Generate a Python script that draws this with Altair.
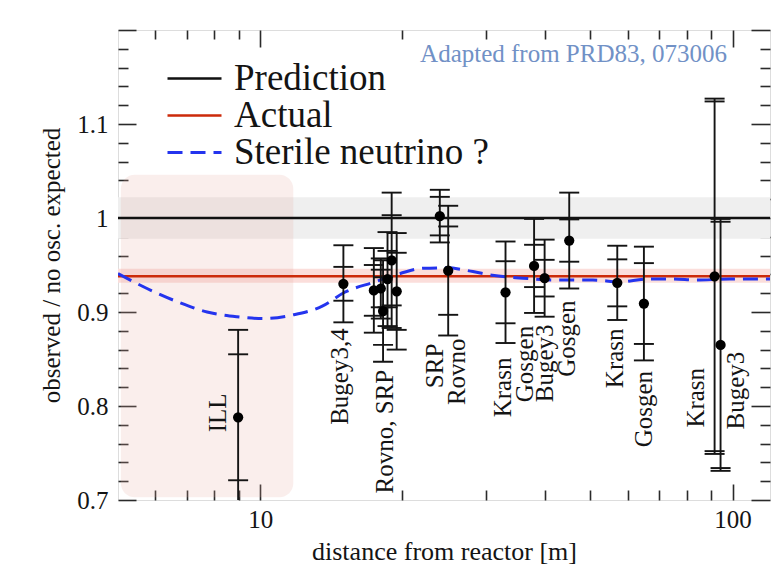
import altair as alt
import pandas as pd

# ---------------- data ----------------
dist    = [8.98, 15.0, 17.4, 18.0, 18.2, 18.6, 18.98, 19.45, 24.0, 25.0, 33.06, 38.0, 40.0, 45.1, 57.0, 64.9, 91.6, 94.3]
ratio   = [0.788, 0.930, 0.923, 0.925, 0.901, 0.935, 0.955, 0.922, 1.002, 0.944, 0.921, 0.949, 0.936, 0.976, 0.931, 0.909, 0.938, 0.865]
err_in  = [0.067, 0.018, 0.027, 0.020, 0.036, 0.030, 0.048, 0.041, 0.0205, 0.047, 0.033, 0.0225, 0.0195, 0.0225, 0.025, 0.043, 0.186, 0.131]
err_out = [0.093, 0.041, 0.045, 0.032, 0.054, 0.050, 0.072, 0.062, 0.028, 0.069, 0.054, 0.050, 0.041, 0.051, 0.0395, 0.0605, 0.189, 0.134]

label_text = ["ILL", "Bugey3,4", "Rovno, SRP", "SRP", "Rovno", "Krasn", "Gosgen", "Bugey3",
              "Gosgen", "Krasn", "Gosgen", "Krasn", "Bugey3"]
label_x = [8.15, 14.76, 18.38, 23.44, 26.09, 32.64, 36.33, 40.05, 44.57, 56.3, 64.8, 83.5, 101.9]
label_y = [0.772, 0.780, 0.707, 0.819, 0.801, 0.788, 0.804, 0.804, 0.831, 0.819, 0.756, 0.777, 0.775]

series_names = ["Prediction", "Actual", "Sterile neutrino ?"]
pred_x = [5, 120]
pred_y = [1.0, 1.0]
act_x = [5, 120]
act_y = [0.938, 0.938]
sterile_x = [5.0, 5.76, 6.67, 7.72, 8.93, 10.16, 11.76, 13.5, 15.1, 17.5, 19.8, 22.1, 24.8,
             28.2, 31.0, 36.0, 41.6, 50.6, 57.8, 65.7, 74.8, 84.0, 98.6, 120.0]
sterile_y = [0.941, 0.925, 0.911, 0.900, 0.895, 0.893, 0.897, 0.906, 0.921, 0.932, 0.941, 0.9465, 0.947,
             0.943, 0.939, 0.936, 0.934, 0.934, 0.932, 0.935, 0.935, 0.934, 0.935, 0.935]

pred_band = [0.978, 1.022]
act_band = [0.931, 0.946]
band_x = [5, 120]

ill_region_x = [5.07, 11.75]
ill_region_y = [0.703, 1.046]

y_labels = [0.7, 0.8, 0.9, 1.0, 1.1]
y_major = [0.7, 0.8, 0.9, 1.0, 1.1, 1.2]
y_minor = [0.72, 0.74, 0.76, 0.78, 0.82, 0.84, 0.86, 0.88, 0.92, 0.94, 0.96, 0.98,
           1.02, 1.04, 1.06, 1.08, 1.12, 1.14, 1.16, 1.18]
x_major = [10, 100]
x_minor = [6, 7, 8, 9, 20, 30, 40, 50, 60, 70, 80, 90]

# ---------------- tables ----------------
pts = pd.DataFrame({"dist": dist, "ratio": ratio})
pts["lo"] = [r - e for r, e in zip(ratio, err_out)]
pts["hi"] = [r + e for r, e in zip(ratio, err_out)]

caps = []
for d, r, ei, eo in zip(dist, ratio, err_in, err_out):
    for c in (r - eo, r - ei, r + ei, r + eo):
        caps.append({"dist": d, "cap": c})
caps = pd.DataFrame(caps)

labels = pd.DataFrame({"text": label_text, "x": label_x, "y": label_y})

rows = []
for xs_, ys_, nm in ((pred_x, pred_y, series_names[0]), (act_x, act_y, series_names[1]),
                     (sterile_x, sterile_y, series_names[2])):
    for xv, yv in zip(xs_, ys_):
        rows.append({"series": nm, "x": xv, "y": yv})
lines = pd.DataFrame(rows)

pred_band_df = pd.DataFrame({"lo": [pred_band[0]], "hi": [pred_band[1]], "x0": [band_x[0]], "x1": [band_x[1]]})
act_band_df = pd.DataFrame({"lo": [act_band[0]], "hi": [act_band[1]], "x0": [band_x[0]], "x1": [band_x[1]]})
region = pd.DataFrame({"x0": [ill_region_x[0]], "x1": [ill_region_x[1]],
                       "y0": [ill_region_y[0]], "y1": [ill_region_y[1]]})

# ---------------- style ----------------
FONT = "Liberation Serif"
INK = "#141414"
xs = alt.Scale(type="log", domain=[5, 120], nice=False)
ys = alt.Scale(domain=[0.7, 1.2], nice=False, zero=False)

# ---------------- axis layers (inward ticks) ----------------
def axis_layer(xaxis, yaxis):
    return alt.Chart(pts).mark_point(opacity=0).encode(
        x=alt.X("dist:Q", scale=xs, axis=xaxis),
        y=alt.Y("ratio:Q", scale=ys, axis=yaxis),
    )

def tick_axis(orient, values, size):
    return alt.Axis(orient=orient, values=values, offset=-size, tickSize=size, labels=False,
                    domain=False, grid=False, title=None, tickColor="#2a2a2a", tickWidth=1.6)

lab_x_axis = alt.Axis(orient="bottom", values=x_major, ticks=False, tickSize=0, domain=False, grid=False,
                      labelFont=FONT, labelFontSize=25, labelColor=INK, labelPadding=7,
                      title="distance from reactor [m]", titleFont=FONT, titleFontSize=26,
                      titleFontWeight="normal", titleColor=INK, titlePadding=6)
lab_y_axis = alt.Axis(orient="left", values=y_labels, format="~g", ticks=False, tickSize=0, domain=False,
                      grid=False, labelFont=FONT, labelFontSize=25, labelColor=INK, labelPadding=10,
                      title="observed / no osc. expected", titleFont=FONT, titleFontSize=25,
                      titleFontWeight="normal", titleColor=INK, titlePadding=12)

axes = [
    axis_layer(lab_x_axis, lab_y_axis),
    axis_layer(tick_axis("bottom", x_major, 16), tick_axis("left", y_major, 18)),
    axis_layer(tick_axis("bottom", x_minor, 10), tick_axis("left", y_minor, 10)),
    axis_layer(tick_axis("top", x_major, 17), tick_axis("right", y_major, 19)),
    axis_layer(tick_axis("top", x_minor, 9), tick_axis("right", y_minor, 10)),
]

# ---------------- data layers ----------------
def band(df, colour):
    return alt.Chart(df).mark_rect(clip=True, color=colour).encode(
        x=alt.X("x0:Q", scale=xs, axis=None), x2="x1:Q",
        y=alt.Y("lo:Q", scale=ys, axis=None), y2="hi:Q",
    )

region_layer = alt.Chart(region).mark_rect(clip=True, cornerRadius=14, color="#e8a8a0", opacity=0.2).encode(
    x=alt.X("x0:Q", scale=xs, axis=None), x2="x1:Q",
    y=alt.Y("y0:Q", scale=ys, axis=None), y2="y1:Q",
)

legend = alt.Legend(orient="none", legendX=58, legendY=30, title=None, symbolType="M-3,0H3",
                    symbolSize=324, labelFont=FONT, labelFontSize=37, labelColor=INK, labelLimit=500,
                    labelOffset=21, rowPadding=-1, padding=0, symbolFillColor="transparent")

line_layer = alt.Chart(lines).mark_line(clip=True, interpolate="monotone").encode(
    x=alt.X("x:Q", scale=xs, axis=None),
    y=alt.Y("y:Q", scale=ys, axis=None),
    color=alt.Color("series:N", scale=alt.Scale(domain=series_names, range=["#111111", "#cc2a0a", "#2434ee"]),
                    legend=legend),
    strokeDash=alt.StrokeDash("series:N", scale=alt.Scale(domain=series_names, range=[[1, 0], [1, 0], [15, 8]]),
                              legend=legend),
    strokeWidth=alt.StrokeWidth("series:N", scale=alt.Scale(domain=series_names, range=[2.3, 3, 3]),
                                legend=legend),
)

err_layer = alt.Chart(pts).mark_rule(clip=True, color=INK, strokeWidth=1.9).encode(
    x=alt.X("dist:Q", scale=xs, axis=None),
    y=alt.Y("lo:Q", scale=ys, axis=None), y2="hi:Q",
)

cap_layer = alt.Chart(caps).mark_tick(clip=True, orient="horizontal", size=20, thickness=1.9, color=INK,
                                      opacity=1).encode(
    x=alt.X("dist:Q", scale=xs, axis=None),
    y=alt.Y("cap:Q", scale=ys, axis=None),
)

dot_layer = alt.Chart(pts).mark_circle(clip=True, size=105, color="#000000", opacity=1).encode(
    x=alt.X("dist:Q", scale=xs, axis=None),
    y=alt.Y("ratio:Q", scale=ys, axis=None),
)

text_layer = alt.Chart(labels).mark_text(angle=270, align="left", baseline="middle", font=FONT,
                                         fontSize=25, color=INK).encode(
    x=alt.X("x:Q", scale=xs, axis=None),
    y=alt.Y("y:Q", scale=ys, axis=None),
    text="text:N",
)

chart = alt.layer(
    band(pred_band_df, "#efefef"), band(act_band_df, "#fbdedb"), region_layer, line_layer,
    err_layer, cap_layer, dot_layer, text_layer, *axes
).resolve_axis(x="independent", y="independent").properties(
    width=652, height=470,
    autosize=alt.AutoSizeParams(type="none"),
    padding={"left": 118, "top": 30, "right": 5, "bottom": 67},
    title=alt.TitleParams("Adapted from PRD83, 073006", anchor="end", orient="top", frame="group",
                          offset=-58, dx=-43, baseline="alphabetic", color="#7191c6", font=FONT,
                          fontSize=25, fontWeight="normal"),
).configure_view(stroke="#2a2a2a", strokeWidth=1.6).configure(background="white")

chart.save("out.html", embed_options={"renderer": "svg", "actions": False})
